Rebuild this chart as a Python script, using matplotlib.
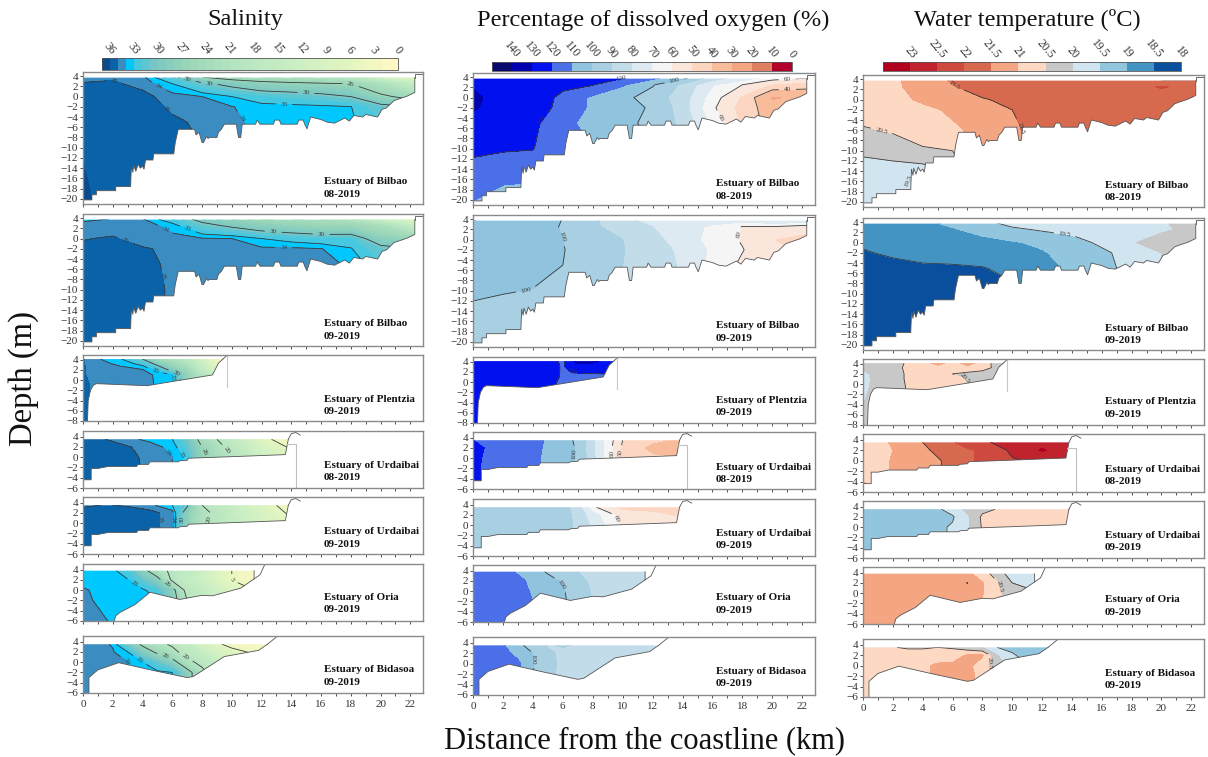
import numpy as np
import matplotlib
matplotlib.use("Agg")
import matplotlib.pyplot as plt
from matplotlib.colors import ListedColormap, BoundaryNorm, LinearSegmentedColormap, to_hex
from matplotlib.cm import ScalarMappable
from matplotlib.patches import Polygon

plt.rcParams["font.family"] = ["Liberation Serif", "DejaVu Serif"]

W, H = 1208, 757

## Colour classes
sal_levels = list(range(0, 37)) + [40]
sal_pale = LinearSegmentedColormap.from_list("pale", [(0, "#fff8c4"), (0.19, "#e0f5c0"), (0.38, "#ccefc4"), (0.63, "#b4e4c0"),
                                                      (0.81, "#9ad6b8"), (0.94, "#78c6c4"), (1, "#45c8e0")])
sal_colors = [to_hex(sal_pale(i / 32)) for i in range(33)] + ["#00c8ff", "#3b8cc0", "#0a62a8", "#0b4a8e"]
sal_ticks = list(range(0, 37, 3))

oxy_levels = list(range(0, 151, 10))
oxy_colors = ["#b2002a", "#e08060", "#f4a582", "#f9bc9a", "#fcd6c0", "#fbe6dc", "#f5f5f5", "#deeaf2",
              "#c3dcea", "#a9cfe3", "#8fc3de", "#4a6fe8", "#0010ee", "#0000b0", "#08086e"]
oxy_ticks = list(range(0, 141, 10))

tmp_levels = [18, 18.5, 19, 19.5, 20, 20.5, 21, 21.5, 22, 22.5, 23, 23.5]
tmp_colors = ["#0a4f9e", "#4393c3", "#92c5de", "#d1e5f0", "#c8c8c8", "#fdd9c4", "#f4a582", "#d6694e",
              "#cf4a3e", "#c0232e", "#b2001f"]
tmp_ticks = [18, 18.5, 19, 19.5, 20, 20.5, 21, 21.5, 22, 22.5, 23]

## Stations and depths of the sections
bil_x = [0, 2, 4, 6, 8, 10, 12, 14, 16, 18, 20, 22.4]
bil_z = [3.8, 2.5, 0, -2, -5, -10, -16, -21]
ple_x = [0, 1, 2.5, 4, 5, 6, 7, 8, 9, 9.8]
ple_z = [4.1, 3.2, 2, 1, -0.5, -8]
urd_x = [0, 1.5, 3, 4.5, 6, 7, 8, 10, 12, 14]
urd_z = [3.5, 2, 0, -2, -6]
ori_x = [0, 2, 3, 4, 5, 6, 7, 8, 9, 10, 11, 12]
ori_z = [3.8, 2, 0, -2, -6]
bid_x = [0, 2, 3, 4, 5, 6, 7, 8, 9, 10, 11, 12.4]
bid_z = [3.5, 2, 0, -2, -6]

## Bottom outlines
bil_bx = [0, 0.6, 0.6, 0.9, 0.9, 2.2, 2.2, 3.2, 3.25, 3.35, 3.4, 3.55, 3.7, 3.85, 4.0, 4.1, 4.2, 4.7, 4.75, 6.1, 6.2, 6.4,
          7.5, 7.6, 7.8, 8.0, 8.1, 8.3, 8.4, 8.5, 9.0, 9.1, 9.3, 9.5, 10.3, 10.45, 10.6, 10.7, 11.6, 11.7, 11.9, 12.0,
          12.8, 12.9, 13.2, 13.3, 14.4, 14.5, 14.8, 14.9, 15.05, 15.3, 16, 16.4, 16.9, 17.6, 17.9, 18.2, 18.8, 19, 19.8,
          20.1, 20.4, 20.9, 21.8, 22.3, 22.3]
bil_by = [-20.2, -20.2, -19.2, -19.2, -18.4, -18.4, -17.6, -17.6, -13.6, -14.8, -13.4, -14.6, -13.2, -14, -13.6, -14.2, -12.4, -12.4, -11.2, -11.2, -9, -6.4,
          -6.4, -7.5, -7, -9, -9, -7.8, -8.2, -8, -8, -7, -6.4, -5.4, -5.4, -8, -8, -5.4, -5.4, -4.6, -5.4, -5.4,
          -5.4, -4.6, -4.6, -5.4, -5.4, -4.6, -4.6, -5.4, -6.3, -4, -4.5, -5, -5.2, -4.2, -4.8, -3.7, -4, -3.5, -4,
          -2.5, -2.2, -0.8, 0.1, 0.8, 3.7]
ple_bx = [0.3, 0.35, 0.5, 0.7, 0.9, 4.3, 8.7, 9.1, 9.4]
ple_by = [-8, -4, -2, -1, -0.7, -1.1, 1, 3.3, 4.1]
urd_bx = [0.03, 0.55, 0.55, 1, 1.7, 3.6, 3.7, 4.4, 4.5, 6.4, 6.5, 7, 7.1, 10, 13.6, 13.8]
urd_by = [-4.4, -4.4, -2.2, -2.2, -1.8, -1.8, -1.4, -1.4, -0.9, -0.9, -0.7, -0.6, -0.2, 0.1, 0.5, 3.5]
ori_bx = [2.1, 2.2, 2.5, 3.5, 4.5, 6.5, 8, 8.7, 10.6, 11.5, 11.5]
ori_by = [-6, -5, -4.3, -2.8, -0.4, -1.8, -1, -1.1, 0.4, 2.2, 3.8]
bid_bx = [0.4, 0.4, 1, 2.4, 4.7, 7, 7.4, 9.5, 11.8, 12.4]
bid_by = [-6, -3, -1.5, -0.1, -1.6, -3, -2.8, 1.1, 2.3, 3.5]

## Bank lines above the water
bil_bank_x = [22.3, 22.3, 22.9]
bil_bank_y = [3.7, 4.5, 4.5]
ple_bank_x = [9.4, 9.7]
ple_bank_y = [4.1, 4.9]
urd_bank_x = [13.8, 14, 14.3, 14.6]
urd_bank_y = [3.5, 4.6, 4.8, 4.3]
ori_bank_x = [11.5, 11.9, 12.2]
ori_bank_y = [2.2, 3, 4.9]
bid_bank_x = [12.4, 13]
bid_bank_y = [3.5, 4.9]

## Salinity
sal_bil_08 = [[34.6, 34.8, 34.3, 31, 26, 24, 23, 22, 21, 18, 10, 6],
              [35.1, 35.2, 34.6, 33, 30.7, 29, 27.5, 27, 26.5, 26, 22, 14],
              [35.5, 35.6, 35.4, 34.4, 34, 33, 32, 31.6, 31, 30, 27, 24],
              [35.6, 35.7, 35.5, 34.8, 34.5, 34.05, 33.5, 33.4, 33.3, 33.05, 31, 30],
              [35.8, 35.8, 35.6, 35.2, 34.8, 34.2, 33.7, 33.6, 33.5, 33.2, 32, 31],
              [35.95, 35.8, 35.7, 35.4, 35, 34.5, 34, 34, 34, 34, 33, 33],
              [36.05, 35.7, 35.7, 35.4, 35, 34.5, 34, 34, 34, 34, 33, 33],
              [36.2, 35.6, 35.7, 35.4, 35, 34.5, 34, 34, 34, 34, 33, 33]]
sal_bil_09 = [[33.7, 34.05, 34.1, 32, 29, 27, 25, 24, 23, 20, 12, 7],
              [34.5, 34.6, 34.5, 33.6, 31, 29.5, 28, 27, 26, 26, 23, 14],
              [34.95, 35.1, 34.6, 34.3, 34.1, 34, 33, 32.4, 31.9, 32, 28, 26],
              [35.2, 35.3, 35.1, 34.8, 34.5, 34.3, 34.2, 34.2, 34.05, 33.1, 31, 30],
              [35.5, 35.5, 35.3, 34.8, 34.6, 34.5, 34.4, 34.3, 34.2, 33.9, 32, 31],
              [35.6, 35.5, 35.3, 34.9, 34.6, 34.5, 34.4, 34.3, 34.2, 34, 33, 33],
              [35.6, 35.5, 35.3, 34.9, 34.6, 34.5, 34.4, 34.3, 34.2, 34, 33, 33],
              [35.6, 35.5, 35.3, 34.9, 34.6, 34.5, 34.4, 34.3, 34.2, 34, 33, 33]]
sal_ple_09 = [[35.1, 34.1, 33.2, 30, 25, 22, 18, 10, 3, 1],
              [35.1, 34.3, 33.8, 32.5, 29, 25, 21, 13, 5, 3],
              [35.1, 34.5, 34.3, 34.1, 32.5, 29, 25, 16, 8, 5],
              [35.1, 34.6, 34.4, 34.2, 33.9, 33.2, 27, 20, 14, 10],
              [35.2, 34.7, 34.5, 34.3, 33.9, 33.3, 27, 20, 14, 10],
              [35.5, 34.8, 34.5, 34.3, 33.9, 33.3, 27, 20, 14, 10]]
sal_urd_08 = [[35.2, 35, 34.3, 33.7, 33, 30.5, 24, 16, 7, 1],
              [35.5, 35.3, 35.1, 34.5, 33.6, 31.5, 26, 18, 10, 4],
              [35.6, 35.4, 35.3, 34.7, 34, 32.5, 27, 20, 12, 8],
              [35.6, 35.5, 35.4, 34.7, 34, 32.5, 27, 20, 12, 8],
              [35.6, 35.5, 35.4, 34.7, 34, 32.5, 27, 20, 12, 8]]
sal_urd_09 = [[34.8, 35.05, 34.9, 34.3, 33, 30.5, 20, 14, 8, 2],
              [35.5, 35.5, 35.5, 35.4, 34.5, 28, 22, 15, 9, 4],
              [35.6, 35.6, 35.5, 35.4, 34.5, 28, 21, 16, 10, 6],
              [35.6, 35.6, 35.5, 35.4, 34.5, 28, 21, 16, 10, 6],
              [35.6, 35.6, 35.5, 35.4, 34.5, 28, 21, 16, 10, 6]]
sal_ori_09 = [[33.5, 33.3, 32, 28, 22, 19, 16, 13, 8, 5, 2, 1],
              [33.7, 33.4, 33.1, 31, 28, 19, 15, 12, 8, 5, 3, 1],
              [34.1, 33.6, 33.5, 33.3, 32, 28, 18, 15, 12, 8, 6, 4],
              [34.2, 33.6, 33.5, 33.4, 33, 29, 20, 16, 12, 8, 6, 4],
              [34.5, 33.9, 33.5, 33.4, 33, 29, 20, 16, 12, 8, 6, 4]]
sal_bid_09 = [[34.8, 33.9, 30, 25, 22, 19, 15, 10, 6, 3, 2, 1],
              [34.8, 34.1, 33, 29, 25, 22, 17, 14, 10, 7, 5, 4],
              [34.8, 34.6, 34, 33, 31, 28, 22, 18, 14, 10, 7, 5],
              [34.8, 34.7, 33.9, 33.7, 33.4, 33, 28, 22, 16, 10, 7, 5],
              [34.8, 34.7, 33.9, 33.7, 33.4, 33, 28, 22, 16, 10, 7, 5]]

## Percentage of dissolved oxygen
oxy_bil_08 = [[128, 125, 124, 123, 122, 120.5, 112, 103, 85, 75, 65, 60],
              [129, 126, 125, 122, 120.5, 111, 101, 88, 71, 60, 48, 44],
              [132, 126, 125, 118, 108, 103, 95, 85, 65, 48, 28, 32],
              [131, 126, 125, 117, 108, 103, 99, 85, 62, 45, 35, 33],
              [127, 124, 122.5, 112, 107.5, 104, 96, 88, 66, 48, 35, 33],
              [122, 121, 120.4, 112, 110, 105, 100, 90, 70, 50, 40, 35],
              [115, 112, 111, 108, 108, 105, 100, 90, 70, 50, 40, 35],
              [109, 103, 102, 105, 105, 105, 100, 90, 70, 50, 40, 35]]
oxy_bil_09 = [[110.5, 105, 104, 99.8, 92, 82, 77, 76, 75, 74, 80, 78],
              [108, 104, 103, 99.5, 92, 85, 80, 75, 68, 59.5, 59.5, 55],
              [106, 104, 103, 100, 93, 90, 82.5, 76, 66, 59, 50, 45],
              [104, 103.5, 102, 100.5, 94, 90.5, 84, 78, 68, 60.5, 52, 48],
              [103, 102.5, 102, 100, 95, 90, 84, 79, 67, 58, 52, 48],
              [101, 100.4, 99.8, 98, 95, 90, 84, 79, 67, 58, 52, 48],
              [98, 97, 96, 96, 95, 90, 84, 79, 67, 58, 52, 48],
              [95, 93, 92, 92, 92, 90, 84, 79, 67, 58, 52, 48]]
oxy_ple_09 = [[125, 125, 125, 125, 124, 118, 133, 133, 125, 125],
              [125, 125, 125, 125, 124, 119, 128, 126, 125, 125],
              [125, 125, 125, 125, 124, 119, 121, 122, 123, 124],
              [125, 125, 125, 125, 123, 119, 117, 116, 116, 118],
              [125, 125, 125, 124, 122, 118, 116, 116, 116, 118],
              [125, 125, 125, 124, 122, 118, 116, 116, 116, 118]]
oxy_urd_08 = [[120, 117, 116, 111, 104, 98, 82, 50, 42, 38],
              [123, 117, 115, 110.5, 104, 99, 82, 48, 36, 36],
              [123, 115, 114, 110, 103, 99, 83, 47, 42, 40],
              [123, 114, 113, 110, 103, 99, 83, 47, 42, 40],
              [125, 114, 113, 110, 103, 99, 83, 47, 42, 40]]
oxy_urd_09 = [[95, 95, 95, 95, 94, 84, 62, 46, 46, 45],
              [95, 95, 95, 95, 94, 87, 74, 55, 52, 48],
              [95, 95, 95, 95, 94, 88, 78, 58, 55, 54],
              [95, 95, 95, 95, 94, 88, 78, 58, 55, 54],
              [95, 95, 95, 95, 94, 88, 78, 58, 55, 54]]
oxy_ori_09 = [[115, 113, 109, 104, 99, 95, 90, 87, 86, 86, 86, 86],
              [115, 114, 112, 108, 103, 99, 93, 88, 86, 86, 86, 86],
              [115, 114, 113, 109, 104, 101, 95, 89, 86, 86, 86, 86],
              [115, 114, 113, 110, 105, 101, 97, 89, 86, 86, 86, 86],
              [115, 114, 113, 110, 105, 101, 97, 89, 86, 86, 86, 86]]
oxy_bid_09 = [[114, 111, 103, 95, 89, 91, 89, 87, 86, 85, 85, 85],
              [114, 113, 107, 100, 93, 87, 86, 85, 81, 85, 85, 85],
              [114, 114, 112, 100, 94, 87, 85, 86, 85, 85, 85, 85],
              [114, 114, 113, 101, 92, 88, 86, 86, 85, 85, 85, 85],
              [114, 114, 113, 101, 92, 88, 86, 86, 85, 85, 85, 85]]

## Water temperature
tmp_bil_08 = [[20.8, 20.9, 21.25, 21.55, 21.95, 21.8, 21.7, 21.7, 21.7, 21.55, 21.5, 21.5],
              [20.8, 20.9, 21.2, 21.45, 21.8, 21.8, 21.75, 21.7, 21.7, 21.8, 22.05, 21.8],
              [20.7, 20.8, 21.1, 21.3, 21.45, 21.65, 21.7, 21.7, 21.7, 21.7, 21.7, 21.7],
              [20.6, 20.7, 20.85, 21.1, 21.3, 21.5, 21.7, 21.7, 21.7, 21.7, 21.7, 21.7],
              [20.52, 20.65, 20.75, 20.95, 21.2, 21.45, 21.65, 21.7, 21.7, 21.7, 21.7, 21.7],
              [20.05, 20.2, 20.45, 20.5, 21, 21.4, 21.6, 21.7, 21.7, 21.7, 21.7, 21.7],
              [19.8, 19.6, 19.4, 19.8, 21, 21.4, 21.6, 21.7, 21.7, 21.7, 21.7, 21.7],
              [19.7, 19.7, 19.7, 19.8, 21, 21.4, 21.6, 21.7, 21.7, 21.7, 21.7, 21.7]]
tmp_bil_09 = [[18.85, 18.85, 18.9, 19.1, 19.35, 19.65, 19.75, 19.8, 19.85, 19.9, 19.95, 20.2],
              [18.8, 18.8, 18.85, 18.95, 19.15, 19.4, 19.55, 19.65, 19.8, 19.9, 19.95, 20.1],
              [18.55, 18.6, 18.65, 18.75, 18.85, 18.95, 19.1, 19.3, 19.6, 19.97, 20.15, 20.2],
              [18.47, 18.55, 18.6, 18.65, 18.7, 18.8, 18.95, 19.2, 19.4, 19.7, 20, 20.2],
              [18.35, 18.4, 18.45, 18.45, 18.48, 18.6, 18.8, 19.1, 19.4, 19.6, 20, 20.2],
              [18.3, 18.3, 18.3, 18.3, 18.35, 18.4, 18.8, 19.1, 19.4, 19.6, 20, 20.2],
              [18.3, 18.3, 18.3, 18.3, 18.35, 18.4, 18.8, 19.1, 19.4, 19.6, 20, 20.2],
              [18.3, 18.3, 18.3, 18.3, 18.35, 18.4, 18.8, 19.1, 19.4, 19.6, 20, 20.2]]
tmp_ple_09 = [[20.2, 20.4, 20.48, 20.6, 21.25, 20.7, 21.25, 20.7, 20.35, 20.3],
              [20.1, 20.35, 20.49, 20.6, 20.7, 20.75, 20.8, 20.65, 20.4, 20.3],
              [19.8, 20.3, 20.48, 20.6, 20.7, 20.5, 20.4, 20.35, 20.3, 20.3],
              [19.7, 20.3, 20.48, 20.6, 20.7, 20.6, 20.48, 20.2, 20.2, 20.2],
              [19.8, 20.25, 20.47, 20.6, 20.6, 20.55, 20.5, 20.3, 20.2, 20.2],
              [20.2, 20.25, 20.47, 20.6, 20.6, 20.55, 20.5, 20.3, 20.2, 20.2]]
tmp_urd_08 = [[20.9, 20.95, 21.3, 21.6, 21.95, 22.2, 22.4, 22.75, 22.85, 22.7],
              [20.8, 20.9, 21.2, 21.5, 21.75, 21.95, 22.05, 22.6, 23.05, 22.7],
              [20.9, 20.95, 21.2, 21.4, 21.6, 21.9, 22.1, 22.45, 22.6, 22.6],
              [20.9, 20.95, 21.2, 21.4, 21.6, 21.9, 22.1, 22.45, 22.6, 22.6],
              [21.1, 20.95, 21.2, 21.4, 21.6, 21.9, 22.1, 22.45, 22.6, 22.6]]
tmp_urd_09 = [[19.2, 19.2, 19.2, 19.3, 19.7, 20.15, 20.35, 20.7, 20.7, 20.7],
              [19.2, 19.2, 19.2, 19.3, 19.45, 19.9, 20.6, 20.7, 20.7, 20.7],
              [19.3, 19.3, 19.3, 19.35, 19.55, 19.9, 20.55, 20.7, 20.7, 20.7],
              [19.3, 19.3, 19.3, 19.35, 19.55, 19.9, 20.55, 20.7, 20.7, 20.7],
              [19.3, 19.3, 19.3, 19.35, 19.55, 19.9, 20.55, 20.7, 20.7, 20.7]]
tmp_ori_09 = [[21.3, 21.3, 21.3, 21.3, 21.3, 21.25, 21.1, 20.75, 20.25, 19.75, 19.7, 19.7],
              [21.3, 21.3, 21.3, 21.3, 21.3, 21.3, 21.51, 21.03, 20.55, 20, 19.9, 19.9],
              [21.3, 21.3, 21.3, 21.3, 21.3, 21.3, 21.2, 21.02, 20.6, 20.2, 20.1, 20],
              [21.3, 21.3, 21.3, 21.3, 21.3, 21.3, 21.2, 21, 20.6, 20.2, 20.1, 20],
              [21.3, 21.3, 21.3, 21.3, 21.3, 21.3, 21.2, 21, 20.6, 20.2, 20.1, 20]]
tmp_bid_09 = [[20.7, 20.52, 20.45, 20.45, 20.5, 20.45, 20.2, 20, 19.5, 19.3, 19.2, 19.2],
              [20.75, 20.8, 20.7, 20.7, 20.7, 20.75, 21.05, 21.05, 20, 19.6, 19.2, 19.2],
              [20.75, 20.8, 20.8, 20.9, 21.1, 21.1, 21.1, 20.8, 20.2, 19.9, 19.6, 19.4],
              [20.75, 20.8, 20.8, 20.9, 21.1, 21.1, 21.1, 20.9, 20.4, 19.9, 19.6, 19.4],
              [20.75, 20.8, 20.8, 20.9, 21.1, 21.1, 21.1, 20.9, 20.4, 19.9, 19.6, 19.4]]

## Contour lines drawn in each panel, and where their labels sit
sal_lines = [([26, 30, 33, 34, 35], [(2, 2.4), (5.2, 2.5), (5.6, -2.5), (10.2, -5), (7, 3), (8.5, 3.1), (15, 1.3), (13.5, -1.2), (18, 2.5)]),
             ([30, 33, 34, 35], [(3, 1), (5.4, 1.3), (5.2, -7.5), (7, 1.5), (13.5, -1.5), (16, 0), (12.8, 2)]),
             ([30, 33, 34], [(4.8, 1.5), (6, 0.5), (6.5, 2.5)]),
             ([5, 20, 26, 33, 34, 35], [(5.7, 0.7), (6.8, 0.7), (8, 1), (9.5, 1)]),
             ([5, 20, 30, 33, 34, 35], [(5.5, 0.7), (6.1, 0.7), (7.2, 0.7), (8.6, 0.7)]),
             ([5, 20, 26, 33, 34], [(3.5, 1.6), (5.6, 1), (9, 1.6)]),
             ([5, 20, 26, 33, 34], [(3.1, 0.5), (3.9, 0.7), (5.5, 1), (6.8, 0.7)])]
oxy_lines = [([40, 60, 100, 120], [(4.9, -5), (10, 2.5), (13.5, 2.7), (21, 3.1), (21, 2.3), (16.5, -4)]),
             ([60, 100], [(5.9, 0.5), (3.5, -9.5), (17.5, 1.1)]),
             ([120], [(6.5, 0.7)]),
             ([50, 60, 100], [(6.7, 0.8), (9.3, 1), (10.8, 1)]),
             ([60], [(9.2, 0.8)]),
             ([100], [(5.7, 1)]),
             ([100], [(4, 0.8)])]
tmp_lines = [([19.5, 20, 20.5, 21.5], [(6, 2.5), (1.2, -6.5), (3, -15.5), (11, -5.3)]),
             ([18.5, 19.5], [(13.5, 1.5)]),
             ([20.5], [(6.8, 1)]),
             ([21.5, 22.5], []),
             ([19.5, 20.5], []),
             ([20, 20.5, 21.5], [(9, 1.2)]),
             ([19.5, 20.5], [(8.4, 0.6)])]

## Layout in reference pixels: left/right of each column, top/bottom of each panel
col_x = [(83, 423), (473, 815), (863, 1204)]
row_y = [[(72, 204), (214, 346), (355, 421), (431, 488), (497, 554), (564, 621), (636, 693)],
         [(73, 205), (215, 347), (357, 423), (432, 489), (499, 556), (565, 622), (637, 695)],
         [(75, 207), (218, 350), (359, 425), (434, 492), (501, 558), (567, 624), (639, 697)]]
text_x = [324, 716, 1105]
text_y = [[182, 324, 399, 465, 532, 597, 670], [184, 326, 400, 467, 533, 598, 671], [185, 328, 402, 469, 535, 600, 673]]
bar_box = [(102, 398, 58, 70), (492, 792, 62, 71), (883, 1181, 62, 71)]


def px_axes(fig, x0, x1, y0, y1):
    return fig.add_axes([x0 / W, 1 - y1 / H, (x1 - x0) / W, (y1 - y0) / H])


def draw_section(ax, x, z, field, bx, by, top, levels, colors, lines, labels):
    """Filled section clipped to the water body, with its bottom outline."""
    ax.set_xlim(0, 22.85)
    # polygon goes along the surface and back along the bottom
    outline = [(0, top)] + [(bx[-1], top)] + list(zip(bx[::-1], by[::-1])) + [(0, by[0])]
    water = Polygon(outline, closed=True, fc="none", ec="none", transform=ax.transData)
    ax.add_patch(water)
    cf = ax.contourf(x, z, field, levels=levels, colors=colors)
    cf.set_clip_path(water)
    cl = ax.contour(x, z, field, levels=lines, colors="#3a3a3a", linewidths=0.6)
    cl.set_clip_path(water)
    if labels:
        ax.clabel(cl, fmt="%g", fontsize=5, manual=labels, inline=True)
    ax.plot(bx, by, color="#555555", lw=0.6)


estuaries = [("Bilbao", "08-2019", bil_x, bil_z, bil_bx, bil_by, 3.7, (-21, 4.8), bil_bank_x, bil_bank_y),
             ("Bilbao", "09-2019", bil_x, bil_z, bil_bx, bil_by, 3.7, (-21, 4.8), bil_bank_x, bil_bank_y),
             ("Plentzia", "09-2019", ple_x, ple_z, ple_bx, ple_by, 4.1, (-8, 4.9), ple_bank_x, ple_bank_y),
             ("Urdaibai", "08-2019", urd_x, urd_z, urd_bx, urd_by, 3.5, (-6, 5.1), urd_bank_x, urd_bank_y),
             ("Urdaibai", "09-2019", urd_x, urd_z, urd_bx, urd_by, 3.5, (-6, 5.1), urd_bank_x, urd_bank_y),
             ("Oria", "09-2019", ori_x, ori_z, ori_bx, ori_by, 3.8, (-6, 5.1), ori_bank_x, ori_bank_y),
             ("Bidasoa", "09-2019", bid_x, bid_z, bid_bx, bid_by, 3.5, (-6, 5.1), bid_bank_x, bid_bank_y)]

variables = [(sal_levels, sal_colors, sal_ticks, sal_lines,
              [sal_bil_08, sal_bil_09, sal_ple_09, sal_urd_08, sal_urd_09, sal_ori_09, sal_bid_09]),
             (oxy_levels, oxy_colors, oxy_ticks, oxy_lines,
              [oxy_bil_08, oxy_bil_09, oxy_ple_09, oxy_urd_08, oxy_urd_09, oxy_ori_09, oxy_bid_09]),
             (tmp_levels, tmp_colors, tmp_ticks, tmp_lines,
              [tmp_bil_08, tmp_bil_09, tmp_ple_09, tmp_urd_08, tmp_urd_09, tmp_ori_09, tmp_bid_09])]

fig = plt.figure(figsize=(W / 100, H / 100), dpi=100)

for c, (levels, colors, ticks, lines, fields) in enumerate(variables):
    x0, x1 = col_x[c]
    for r, est in enumerate(estuaries):
        name, date, sx, sz, bx, by, top, ylim, bank_x, bank_y = est
        y0, y1 = row_y[c][r]
        ax = px_axes(fig, x0, x1, y0, y1)
        draw_section(ax, sx, sz, fields[r], bx, by, top, levels, colors, lines[r][0], lines[r][1])
        ax.plot(bank_x, bank_y, color="#555555", lw=0.6)
        # the thin grey walls of Plentzia and of Urdaibai in August
        if name == "Plentzia":
            ax.plot([9.65, 9.65], [4.8, -1.4], color="#c8c8c8", lw=0.8)
        if name == "Urdaibai" and date == "08-2019":
            ax.plot([13.7, 14.3, 14.3], [2.5, 2.5, -6], color="#c0c0c0", lw=0.8)
        ax.set_ylim(*ylim)
        ax.set_yticks(np.arange(4, ylim[0] - 1, -2))
        ax.set_xticks(np.arange(0, 23, 2))
        ax.set_xticks(np.arange(0, 23, 1), minor=True)
        ax.tick_params(axis="both", which="major", labelsize=8, length=2, width=0.6, pad=1.5, colors="#333333")
        ax.tick_params(axis="x", which="minor", length=2, width=0.6, color="#333333")
        if r < len(estuaries) - 1:
            ax.tick_params(axis="x", which="major", labelbottom=False)
        else:
            ax.tick_params(axis="x", which="major", pad=3)
        for s in ax.spines.values():
            s.set_color("#8a8a8a")
            s.set_linewidth(1.0)
        fig.text(text_x[c] / W, 1 - text_y[c][r] / H, "Estuary of " + name, fontsize=8, fontweight="bold",
                 va="center", color="#111111")
        fig.text(text_x[c] / W, 1 - (text_y[c][r] + 12.5) / H, date, fontsize=8, fontweight="bold",
                 va="center", color="#111111")

    ## Colour bar, high values on the left
    bx0, bx1, by0, by1 = bar_box[c]
    cax = px_axes(fig, bx0, bx1, by0, by1)
    sm = ScalarMappable(norm=BoundaryNorm(levels, len(colors)), cmap=ListedColormap(colors))
    cb = fig.colorbar(sm, cax=cax, orientation="horizontal", spacing="uniform", ticks=ticks, drawedges=True)
    cb.dividers.set_color("#444444")
    cb.dividers.set_linewidth(0.6)
    cb.outline.set_edgecolor("#555555")
    cb.outline.set_linewidth(0.6)
    cax.invert_xaxis()
    cax.minorticks_off()
    cax.xaxis.set_ticks_position("top")
    cax.set_xticklabels([f"{t:g}" for t in ticks], rotation=-50, ha="center", fontsize=8.5, color="#333333")
    cax.tick_params(axis="x", length=0, pad=1)

fig.text(245 / W, 1 - 20 / H, "Salinity", fontsize=17.6, ha="center", va="center", color="#111111")
fig.text(653 / W, 1 - 20 / H, "Percentage of dissolved oxygen (%)", fontsize=17.6, ha="center", va="center", color="#111111")
fig.text(1027 / W, 1 - 20 / H, "Water temperature (ºC)", fontsize=17.6, ha="center", va="center", color="#111111")
fig.text(24 / W, 1 - 379 / H, "Depth (m)", fontsize=23.5, rotation=90, ha="center", va="center", color="#111111")
fig.text(645 / W, 1 - 741 / H, "Distance from the coastline (km)", fontsize=22, ha="center", va="center", color="#111111")

fig.savefig("out.png", dpi=100)
